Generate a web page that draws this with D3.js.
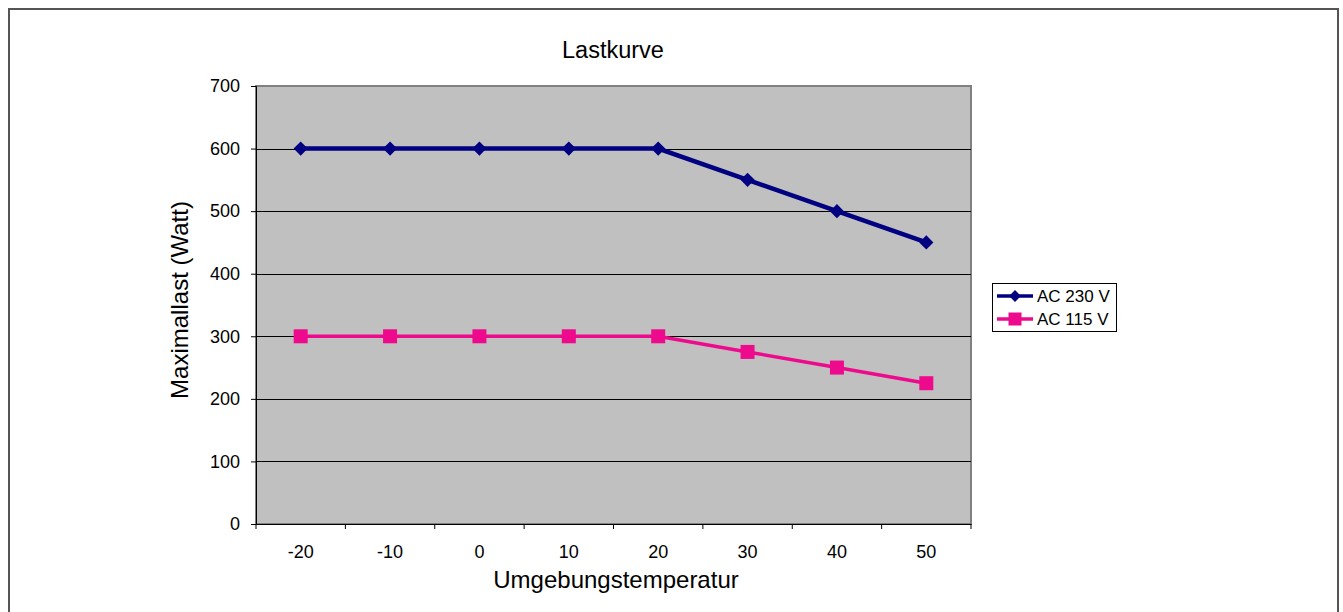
<!DOCTYPE html>
<html>
<head>
<meta charset="utf-8">
<script src="https://cdn.jsdelivr.net/npm/d3@7"></script>
<style>
  body { margin: 0; background: #fff; }
  text { font-family: "Liberation Sans", Arial, sans-serif; fill: #000; }
</style>
</head>
<body>
<div id="chart"></div>
<script>
var temps = ["-20", "-10", "0", "10", "20", "30", "40", "50"]
var ac230 = [600, 600, 600, 600, 600, 550, 500, 450]
var ac115 = [300, 300, 300, 300, 300, 275, 250, 225]
var yTicks = [0, 100, 200, 300, 400, 500, 600, 700]

var W = 1343, H = 612
var plot = { left: 256, top: 86, right: 971, bottom: 524 }

var svg = d3.select("#chart").append("svg")
  .attr("width", W).attr("height", H)

// outer frame (bottom edge lies outside the picture)
svg.append("rect")
  .attr("x", 9).attr("y", 9).attr("width", 1329).attr("height", 620)
  .attr("fill", "none").attr("stroke", "#555").attr("stroke-width", 2)

var x = d3.scaleBand().domain(temps).range([plot.left, plot.right])
var y = d3.scaleLinear().domain([0, 700]).range([plot.bottom, plot.top])

// plot area
svg.append("rect")
  .attr("x", plot.left).attr("y", plot.top)
  .attr("width", plot.right - plot.left).attr("height", plot.bottom - plot.top)
  .attr("fill", "#c0c0c0").attr("stroke", "#808080").attr("stroke-width", 2)

// gridlines
svg.append("g").selectAll("line")
  .data(yTicks.filter(function (d) { return d > 0 && d < 700 }))
  .enter().append("line")
  .attr("x1", plot.left).attr("x2", plot.right)
  .attr("y1", function (d) { return Math.round(y(d)) + 0.5 })
  .attr("y2", function (d) { return Math.round(y(d)) + 0.5 })
  .attr("stroke", "#000").attr("stroke-width", 1)

// y axis
var yAxis = svg.append("g")
  .attr("transform", "translate(" + plot.left + ",0)")
  .call(d3.axisLeft(y).tickValues(yTicks).tickSize(5).tickPadding(11))
yAxis.select(".domain").attr("stroke", "#000")
yAxis.selectAll("text").attr("font-size", 18)
  .attr("font-family", "Liberation Sans, Arial, sans-serif")

// x axis with ticks at category boundaries
var xAxis = svg.append("g")
  .attr("transform", "translate(0," + plot.bottom + ")")
  .call(d3.axisBottom(x).tickSize(0).tickPadding(21))
xAxis.select(".domain").attr("stroke", "#000")
xAxis.selectAll("text").attr("font-size", 18)
  .attr("font-family", "Liberation Sans, Arial, sans-serif")
var bounds = temps.map(function (d) { return x(d) }).concat([x.range()[1]])
xAxis.selectAll(".bound").data(bounds).enter().append("line")
  .attr("x1", function (d) { return d }).attr("x2", function (d) { return d })
  .attr("y1", 0).attr("y2", 5).attr("stroke", "#000")

function cx(d, i) { return x(temps[i]) + x.bandwidth() / 2 }

var line = d3.line()
  .x(function (d, i) { return cx(d, i) })
  .y(function (d) { return y(d) })

svg.append("path").datum(ac230).attr("d", line)
  .attr("fill", "none").attr("stroke", "#000080").attr("stroke-width", 4.5)
svg.append("path").datum(ac115).attr("d", line)
  .attr("fill", "none").attr("stroke", "#ee0a8c").attr("stroke-width", 3.5)

svg.append("g").selectAll("path").data(ac230).enter().append("path")
  .attr("d", d3.symbol().type(d3.symbolSquare).size(100))
  .attr("transform", function (d, i) { return "translate(" + cx(d, i) + "," + y(d) + ") rotate(45)" })
  .attr("fill", "#000080")

svg.append("g").selectAll("rect").data(ac115).enter().append("rect")
  .attr("x", function (d, i) { return cx(d, i) - 7 })
  .attr("y", function (d) { return y(d) - 7 })
  .attr("width", 14).attr("height", 14)
  .attr("fill", "#ee0a8c")

// titles
svg.append("text").attr("x", 613).attr("y", 58)
  .attr("text-anchor", "middle").attr("font-size", 23.5).text("Lastkurve")
svg.append("text").attr("x", 616).attr("y", 588)
  .attr("text-anchor", "middle").attr("font-size", 24).text("Umgebungstemperatur")
svg.append("text")
  .attr("transform", "translate(188,300) rotate(-90)")
  .attr("text-anchor", "middle").attr("font-size", 24).text("Maximallast (Watt)")

// legend
var legend = svg.append("g").attr("transform", "translate(992,283)")
legend.append("rect").attr("x", 0.5).attr("y", 0.5).attr("width", 124).attr("height", 48)
  .attr("fill", "#fff").attr("stroke", "#000")
var series = [
  { name: "AC 230 V", color: "#000080", shape: "diamond" },
  { name: "AC 115 V", color: "#ee0a8c", shape: "square" }
]
series.forEach(function (s, i) {
  var yy = 13 + i * 23
  legend.append("line").attr("x1", 5).attr("x2", 41).attr("y1", yy).attr("y2", yy)
    .attr("stroke", s.color).attr("stroke-width", 3.5)
  if (s.shape === "diamond") {
    legend.append("path").attr("d", d3.symbol().type(d3.symbolSquare).size(70))
      .attr("transform", "translate(23," + yy + ") rotate(45)").attr("fill", s.color)
  } else {
    legend.append("rect").attr("x", 16.5).attr("y", yy - 6.5).attr("width", 13).attr("height", 13)
      .attr("fill", s.color)
  }
  legend.append("text").attr("x", 45).attr("y", yy + 6).attr("font-size", 17).text(s.name)
})
</script>
</body>
</html>
